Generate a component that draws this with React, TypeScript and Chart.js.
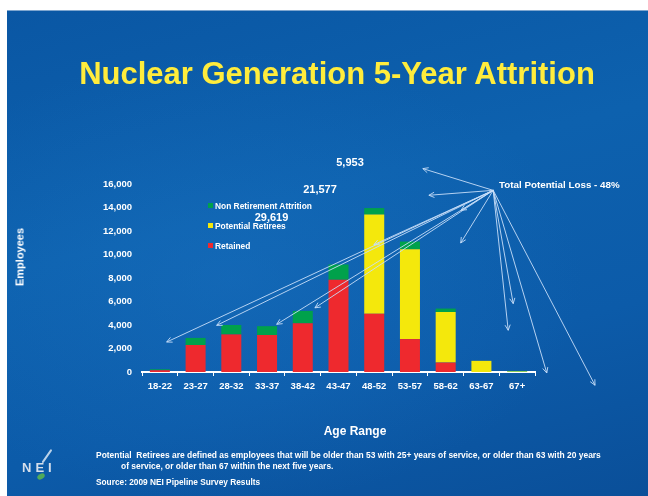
import React, { useEffect, useRef } from "react";
import { Chart, registerables } from "chart.js";

Chart.register(...registerables);

// ---- data ----
const ageRanges = ["18-22", "23-27", "28-32", "33-37", "38-42", "43-47", "48-52", "53-57", "58-62", "63-67", "67+"];
const retained = [150, 2300, 3200, 3150, 4150, 7850, 4950, 2800, 800, 0, 0];
const potentialRetirees = [0, 0, 0, 0, 0, 0, 8450, 7650, 4300, 950, 30];
const nonRetirementAttrition = [80, 600, 800, 750, 1050, 1300, 550, 650, 300, 0, 60];
const seriesNames = ["Retained", "Potential Retirees", "Non Retirement Attrition"];
const yMax = 16000;
const yStep = 2000;
const totalLabels = ["5,953", "21,577", "29,619"];
const totalLossLabel = "Total Potential Loss - 48%";
// arrows: [category index, value] in data space
const arrowOrigin = [9.33, 15460];
const arrowTargets = [
  [7.36, 17310],
  [7.53, 15040],
  [8.43, 13760],
  [8.42, 10980],
  [5.99, 10840],
  [4.34, 5460],
  [0.19, 2550],
  [1.59, 3970],
  [3.27, 4060],
  [9.89, 5820],
  [9.75, 3550],
  [10.83, -85],
  [12.18, -1130],
];

const RED = "rgb(238,41,46)";
const YELLOW = "rgb(244,232,12)";
const GREEN = "rgb(0,161,75)";
const FONT = "'Liberation Sans', Arial, sans-serif";

const arrowPlugin = {
  id: "arrows",
  afterDatasetsDraw(chart: any) {
    const { ctx, scales } = chart;
    const x = scales.x;
    const y = scales.y;
    const ox = x.getPixelForValue(arrowOrigin[0]);
    const oy = y.getPixelForValue(arrowOrigin[1]);
    ctx.save();
    ctx.strokeStyle = "rgba(200,222,248,0.9)";
    ctx.lineWidth = 1;
    for (const t of arrowTargets) {
      const tx = x.getPixelForValue(t[0]);
      const ty = y.getPixelForValue(t[1]);
      ctx.beginPath();
      ctx.moveTo(ox, oy);
      ctx.lineTo(tx, ty);
      const ang = Math.atan2(ty - oy, tx - ox);
      const L = 6;
      const a = 0.45;
      ctx.moveTo(tx - L * Math.cos(ang - a), ty - L * Math.sin(ang - a));
      ctx.lineTo(tx, ty);
      ctx.lineTo(tx - L * Math.cos(ang + a), ty - L * Math.sin(ang + a));
      ctx.stroke();
    }
    ctx.restore();
  },
};

function Txt(props: { x: number; y: number; size: number; text: string; anchor?: "left" | "center"; color?: string; weight?: string; style?: any }) {
  const { x, y, size, text, anchor = "left", color = "#ffffff", weight = "bold", style = {} } = props;
  return (
    <div
      style={{
        position: "absolute",
        left: x,
        top: y,
        transform: anchor === "center" ? "translate(-50%,-50%)" : "translate(0,-50%)",
        fontFamily: FONT,
        fontSize: size,
        fontWeight: weight as any,
        lineHeight: 1,
        color,
        whiteSpace: "pre",
        ...style,
      }}
    >
      {text}
    </div>
  );
}

export default function App() {
  const canvasRef = useRef<HTMLCanvasElement | null>(null);

  useEffect(() => {
    if (!canvasRef.current) return;
    const chart = new Chart(canvasRef.current, {
      type: "bar",
      data: {
        labels: ageRanges,
        datasets: [
          { label: seriesNames[0], data: retained, backgroundColor: RED },
          { label: seriesNames[1], data: potentialRetirees, backgroundColor: YELLOW },
          { label: seriesNames[2], data: nonRetirementAttrition, backgroundColor: GREEN },
        ],
      },
      options: {
        responsive: false,
        animation: false,
        datasets: { bar: { barPercentage: 0.56, categoryPercentage: 1.0, borderWidth: 0 } } as any,
        layout: { padding: { left: 0, right: 113, top: 174, bottom: 94 } },
        plugins: {
          legend: { display: false },
          tooltip: { enabled: false },
          title: { display: false },
        },
        scales: {
          x: {
            stacked: true,
            grid: { display: true, drawOnChartArea: false, drawTicks: true, tickLength: 4, color: "#ffffff", offset: true },
            border: { display: true, color: "#ffffff", width: 2 },
            ticks: {
              color: "#ffffff",
              font: { family: FONT, size: 9.5, weight: "bold" },
              padding: 5,
              maxRotation: 0,
              autoSkip: false,
            },
            afterFit: (s: any) => {
              s.height = 30;
            },
          },
          y: {
            stacked: true,
            min: 0,
            max: yMax,
            grid: { display: false, drawTicks: false },
            border: { display: false },
            ticks: {
              stepSize: yStep,
              color: "#ffffff",
              font: { family: FONT, size: 9.5, weight: "bold" },
              padding: 10,
              callback: (v: any) => Number(v).toLocaleString("en-US"),
            },
            afterFit: (s: any) => {
              s.width = 135;
            },
          },
        },
      } as any,
      plugins: [arrowPlugin],
    });
    return () => chart.destroy();
  }, []);

  return (
    <div style={{ position: "relative", width: 648, height: 496, background: "#ffffff", overflow: "hidden" }}>
      <style>{`html,body{margin:0;padding:0;overflow:hidden;background:#fff}`}</style>
      <div
        style={{
          position: "absolute",
          left: 7,
          top: 10,
          width: 641,
          height: 486,
          background:
            "radial-gradient(ellipse at 35% 55%, rgba(30,120,200,0.35) 0%, rgba(30,120,200,0) 60%), linear-gradient(165deg, #0a57a4 0%, #0d61ae 40%, #0c5ba9 70%, #0a4f99 100%)",
          borderTop: "1px solid #7fa6cf",
          boxSizing: "border-box",
        }}
      />
      <canvas ref={canvasRef} width={641} height={486} style={{ position: "absolute", left: 7, top: 10, width: 641, height: 486 }} />

      <Txt x={337} y={73} size={31} anchor="center" text="Nuclear Generation 5-Year Attrition" color="rgb(255,236,60)" />

      <Txt x={20} y={257} size={11} anchor="center" text="Employees" style={{ transform: "translate(-50%,-50%) rotate(-90deg)" }} />
      <Txt x={355} y={431} size={12} anchor="center" text="Age Range" />

      {/* legend */}
      <div style={{ position: "absolute", left: 208, top: 203, width: 5, height: 5, background: GREEN }} />
      <Txt x={215} y={206} size={8.4} text={seriesNames[2]} />
      <div style={{ position: "absolute", left: 208, top: 223, width: 5, height: 5, background: YELLOW }} />
      <Txt x={215} y={225.5} size={8.4} text={seriesNames[1]} />
      <div style={{ position: "absolute", left: 208, top: 243, width: 5, height: 5, background: RED }} />
      <Txt x={215} y={245.5} size={8.4} text={seriesNames[0]} />

      {/* totals */}
      <Txt x={350} y={162} size={11} anchor="center" text={totalLabels[0]} />
      <Txt x={320} y={189} size={11} anchor="center" text={totalLabels[1]} />
      <Txt x={271.5} y={216.5} size={11} anchor="center" text={totalLabels[2]} />
      <Txt x={499} y={184.5} size={9.8} text={totalLossLabel} />

      {/* footnotes */}
      <Txt x={96} y={455} size={8.45} text="Potential  Retirees are defined as employees that will be older than 53 with 25+ years of service, or older than 63 with 20 years" />
      <Txt x={121} y={466} size={8.45} text="of service, or older than 67 within the next five years." />
      <Txt x={96} y={482} size={8.3} text="Source: 2009 NEI Pipeline Survey Results" />

      {/* NEI logo */}
      <div style={{ position: "absolute", left: 46, top: 448, width: 1.5, height: 16, background: "rgba(230,240,250,0.8)", transform: "rotate(35deg)", borderRadius: 2 }} />
      <Txt x={22} y={467} size={13} text="NEI" color="#d6dfeb" weight="bold" style={{ letterSpacing: 4 }} />
      <div style={{ position: "absolute", left: 37, top: 474, width: 8, height: 5, background: "rgb(80,170,90)", borderRadius: "50%", transform: "rotate(-30deg)" }} />
    </div>
  );
}
